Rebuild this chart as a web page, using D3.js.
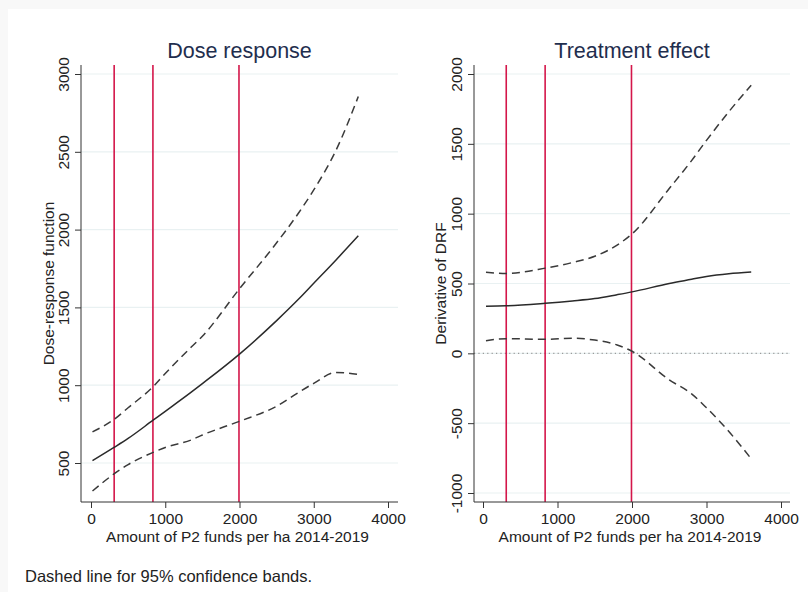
<!DOCTYPE html>
<html>
<head>
<meta charset="utf-8">
<script src="https://cdn.jsdelivr.net/npm/d3@7"></script>
<style>
  html, body { margin: 0; padding: 0; background: #ffffff; }
  svg { display: block; font-family: "Liberation Sans", Arial, sans-serif; }
</style>
</head>
<body>
<svg id="chart" width="808" height="592"></svg>
<script>
// Funding amount (P2 funds per ha) at which the curves are evaluated
const funds = [20, 310, 500, 836, 1000, 1350, 1500, 2000, 2500, 2800, 3000, 3300, 3600];

// Dose-response function with 95% confidence bands
const drfEst   = [515, 600, 658, 775, 832, 955, 1010, 1200, 1415, 1555, 1655, 1805, 1960];
const drfUpper = [700, 780, 855, 990, 1075, 1245, 1315, 1620, 1915, 2110, 2255, 2510, 2855];
const drfLower = [320, 430, 490, 568, 600, 648, 680, 768, 865, 955, 1012, 1082, 1070];

// Derivative of the DRF (treatment effect) with 95% confidence bands
const teFunds  = [40, 310, 836, 1200, 1500, 1800, 2000, 2500, 2800, 3000, 3300, 3600];
const teEst    = [338, 340, 358, 375, 392, 420, 440, 500, 530, 550, 570, 582];
const teUpper  = [580, 572, 610, 650, 695, 775, 855, 1180, 1380, 1525, 1730, 1920];
const teLower  = [90, 105, 100, 108, 95, 60, 15, -190, -290, -390, -560, -755];

// Reference lines (funding levels) and axis ticks
const refFunds = [312, 834, 1993];
const xTicks   = [0, 1000, 2000, 3000, 4000];
const drfTicks = [500, 1000, 1500, 2000, 2500, 3000];
const teTicks  = [-1000, -500, 0, 500, 1000, 1500, 2000];

const titleCol = "#1f2e4e";
const textCol  = "#222222";
const axisCol  = "#333333";
const gridCol  = "#e9f1f2";
const refCol   = "#d4164a";
const fontTick = "15.5px";
const fontLab  = "15.5px";
const plainNum = d => String(d);

const svg = d3.select("#chart");

// faint outer margin of the graph region
svg.append("rect").attr("x", 0).attr("y", 0).attr("width", 808).attr("height", 592).attr("fill", "#f8f8f8");
svg.append("rect").attr("x", 8).attr("y", 9).attr("width", 800).attr("height", 583).attr("fill", "#ffffff");

function panel(cfg) {
  const g = svg.append("g");
  const x = d3.scaleLinear().domain([0, 4000]).range(cfg.xRange);
  const y = d3.scaleLinear().domain(cfg.yDomain).range(cfg.yRange);
  const [fx0, fx1] = cfg.frameX, [fy0, fy1] = cfg.frameY;

  // horizontal grid
  g.selectAll(".grid").data(cfg.yTicks).join("line")
    .attr("x1", fx0).attr("x2", fx1)
    .attr("y1", d => y(d)).attr("y2", d => y(d))
    .attr("stroke", gridCol).attr("stroke-width", 1.2);

  // zero reference (dotted)
  if (cfg.zeroLine) {
    g.append("line")
      .attr("x1", fx0).attr("x2", fx1)
      .attr("y1", y(0)).attr("y2", y(0))
      .attr("stroke", "#9a9a9a").attr("stroke-width", 1.2)
      .attr("stroke-dasharray", "1.2,3.2");
  }

  // vertical reference lines
  g.selectAll(".ref").data(refFunds).join("line")
    .attr("x1", d => x(d)).attr("x2", d => x(d))
    .attr("y1", fy0).attr("y2", fy1)
    .attr("stroke", refCol).attr("stroke-width", 1.6);

  const line = d3.line().curve(d3.curveMonotoneX);
  const pts = (xs, ys) => xs.map((v, i) => [x(v), y(ys[i])]);

  // confidence bands
  [cfg.upper, cfg.lower].forEach(vals => {
    g.append("path")
      .attr("d", line(pts(cfg.xs, vals)))
      .attr("fill", "none").attr("stroke", "#3a3a3a")
      .attr("stroke-width", 1.5).attr("stroke-dasharray", "8,5");
  });
  // point estimate
  g.append("path")
    .attr("d", line(pts(cfg.xs, cfg.est)))
    .attr("fill", "none").attr("stroke", "#2a2a2a").attr("stroke-width", 1.5);

  // axes
  const yAxis = g.append("g").attr("transform", `translate(${fx0},0)`)
    .call(d3.axisLeft(y).tickValues(cfg.yTicks).tickSize(6).tickPadding(4).tickFormat(plainNum));
  yAxis.select(".domain").attr("d", `M0,${fy0}V${fy1}`).attr("stroke", axisCol);
  yAxis.selectAll(".tick line").attr("stroke", axisCol);
  yAxis.selectAll(".tick text")
    .attr("x", 0).attr("dy", null)
    .attr("transform", "translate(-18,0) rotate(-90)")
    .attr("text-anchor", "middle")
    .attr("dominant-baseline", "central")
    .attr("fill", textCol).style("font-size", fontTick)
    .style("font-family", "'Liberation Sans', Arial, sans-serif");

  const xAxis = g.append("g").attr("transform", `translate(0,${fy1})`)
    .call(d3.axisBottom(x).tickValues(xTicks).tickSize(6).tickPadding(5).tickFormat(plainNum));
  xAxis.select(".domain").attr("d", `M${fx0},0H${fx1}`).attr("stroke", axisCol);
  xAxis.selectAll(".tick line").attr("stroke", axisCol);
  xAxis.selectAll(".tick text")
    .attr("fill", textCol).style("font-size", fontTick)
    .style("font-family", "'Liberation Sans', Arial, sans-serif");

  // titles
  g.append("text")
    .attr("x", (fx0 + fx1) / 2 + cfg.titleShift).attr("y", 58)
    .attr("text-anchor", "middle")
    .attr("fill", titleCol).style("font-size", "21.5px")
    .text(cfg.title);
  g.append("text")
    .attr("x", (x(0) + x(4000)) / 2 - 2).attr("y", 542)
    .attr("text-anchor", "middle")
    .attr("fill", textCol).style("font-size", fontLab)
    .text("Amount of P2 funds per ha 2014-2019");
  g.append("text")
    .attr("transform", `translate(${cfg.yTitleX},${(fy0 + fy1) / 2}) rotate(-90)`)
    .attr("text-anchor", "middle")
    .attr("dominant-baseline", "central")
    .attr("fill", textCol).style("font-size", fontLab)
    .text(cfg.yTitle);
}

panel({
  xRange: [91, 388], frameX: [81, 398], frameY: [65, 502],
  yDomain: [500, 3000], yRange: [463, 74], yTicks: drfTicks,
  xs: funds, est: drfEst, upper: drfUpper, lower: drfLower,
  title: "Dose response", titleShift: 0,
  yTitle: "Dose-response function", yTitleX: 48, zeroLine: false
});

panel({
  xRange: [483, 781], frameX: [474, 790], frameY: [65, 502],
  yDomain: [-1000, 2000], yRange: [493, 74], yTicks: teTicks,
  xs: teFunds, est: teEst, upper: teUpper, lower: teLower,
  title: "Treatment effect", titleShift: 0,
  yTitle: "Derivative of DRF", yTitleX: 440, zeroLine: true
});

// note
svg.append("text")
  .attr("x", 25).attr("y", 582)
  .attr("fill", textCol).style("font-size", "16.5px")
  .text("Dashed line for 95% confidence bands.");
</script>
</body>
</html>
